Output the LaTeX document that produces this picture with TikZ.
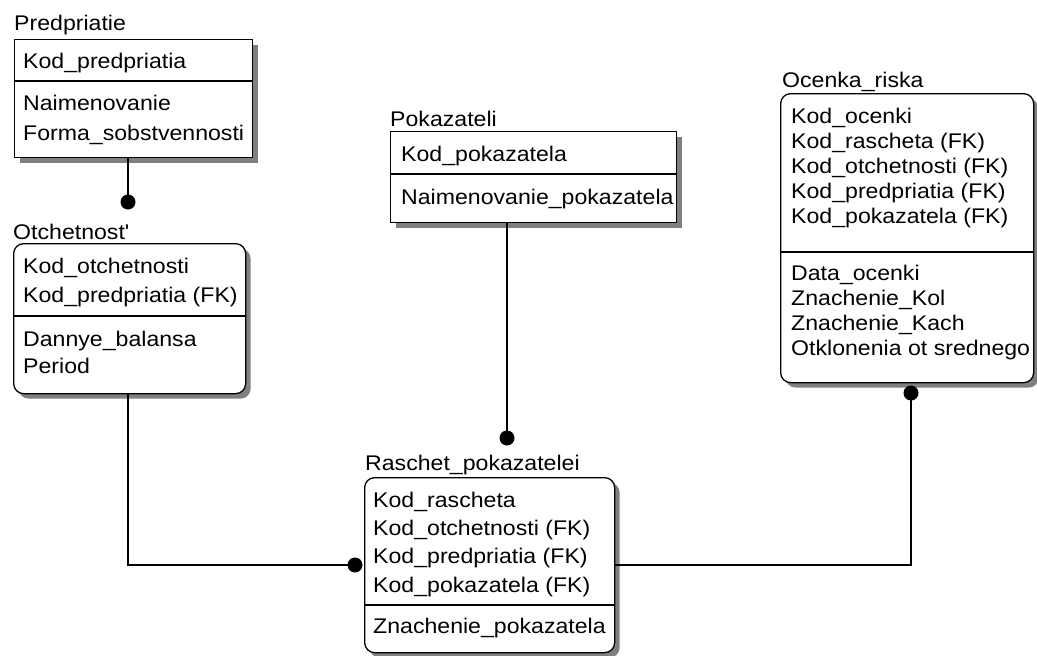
\documentclass[tikz,border=0pt]{standalone}
\usepackage{fontspec}
\setmainfont{Liberation Sans}[FakeStretch=1.09]
\usetikzlibrary{shadows}
\begin{document}
\begin{tikzpicture}[x=1pt,y=-1pt,
  ent/.style={draw=black, line width=1.3pt, fill=white, anchor=north west,
    inner sep=0pt, minimum width=#1,
    drop shadow={shadow xshift=5pt, shadow yshift=-5pt, fill=black!50, opacity=1}},
  dep/.style={ent=#1, rounded corners=10pt},
  txt/.style={anchor=base west, inner sep=0pt, font=\fontsize{21.2}{25}\selectfont},
  divider/.style={line width=1.3pt},
  link/.style={line width=1.3pt},
  dot/.style={circle, fill=black, inner sep=0pt, minimum size=15pt}]
\useasboundingbox (0,0) rectangle (1037,656);

% ---- entity boxes ----
\node[ent=238pt, minimum height=118pt] (pred) at (14,39) {};
\node[dep=232pt, minimum height=150pt] (otch) at (13,243) {};
\node[ent=286pt, minimum height=91pt] (pok) at (390,131) {};
\node[dep=250pt, minimum height=175pt] (rasch) at (364,477) {};
\node[dep=253pt, minimum height=289pt] (ocen) at (780,93) {};

% ---- key / non-key dividers ----
\draw[divider] (pred.west |- 0,81) -- (pred.east |- 0,81);
\draw[divider] (otch.west |- 0,316) -- (otch.east |- 0,316);
\draw[divider] (pok.west |- 0,174) -- (pok.east |- 0,174);
\draw[divider] (rasch.west |- 0,605) -- (rasch.east |- 0,605);
\draw[divider] (ocen.west |- 0,252) -- (ocen.east |- 0,252);

% ---- titles ----
\node[txt] (pred-t) at (14,30) {Predpriatie};
\node[txt] (otch-t) at (13,239) {Otchetnost\textquotesingle};
\node[txt] (pok-t) at (390,126) {Pokazateli};
\node[txt] (rasch-t) at (365,470) {Raschet\_pokazatelei};
\node[txt] (ocen-t) at (782,87) {Ocenka\_riska};

% ---- Predpriatie ----
\node[txt] (pred-1) at (23,68) {Kod\_predpriatia};
\node[txt] (pred-2) at (23,110) {Naimenovanie};
\node[txt] (pred-3) at (23,140) {Forma\_sobstvennosti};

% ---- Otchetnost' ----
\node[txt] (otch-1) at (23,273) {Kod\_otchetnosti};
\node[txt] (otch-2) at (23,302) {Kod\_predpriatia (FK)};
\node[txt] (otch-3) at (23,346) {Dannye\_balansa};
\node[txt] (otch-4) at (23,373) {Period};

% ---- Pokazateli ----
\node[txt] (pok-1) at (401,161) {Kod\_pokazatela};
\node[txt] (pok-2) at (401,204) {Naimenovanie\_pokazatela};

% ---- Raschet_pokazatelei ----
\node[txt] (rasch-1) at (373,507) {Kod\_rascheta};
\node[txt] (rasch-2) at (373,535) {Kod\_otchetnosti (FK)};
\node[txt] (rasch-3) at (373,563) {Kod\_predpriatia (FK)};
\node[txt] (rasch-4) at (373,592) {Kod\_pokazatela (FK)};
\node[txt] (rasch-5) at (373,633) {Znachenie\_pokazatela};

% ---- Ocenka_riska ----
\node[txt] (ocen-1) at (791,123) {Kod\_ocenki};
\node[txt] (ocen-2) at (791,148) {Kod\_rascheta (FK)};
\node[txt] (ocen-3) at (791,173) {Kod\_otchetnosti (FK)};
\node[txt] (ocen-4) at (791,198) {Kod\_predpriatia (FK)};
\node[txt] (ocen-5) at (791,223) {Kod\_pokazatela (FK)};
\node[txt] (ocen-6) at (791,280) {Data\_ocenki};
\node[txt] (ocen-7) at (791,305) {Znachenie\_Kol};
\node[txt] (ocen-8) at (791,330) {Znachenie\_Kach};
\node[txt] (ocen-9) at (791,355) {Otklonenia ot srednego};

% ---- relationship ends (child side) ----
\node[dot] (d-otch) at (128,202) {};
\node[dot] (d-rasch-l) at (355,565) {};
\node[dot] (d-rasch-t) at (507,438) {};
\node[dot] (d-ocen) at (911,393) {};

% ---- relationships ----
\draw[link] (pred.south -| d-otch) -- (d-otch.center);
\draw[link] (otch.south -| d-otch) |- (d-rasch-l.center);
\draw[link] (pok.south -| d-rasch-t) -- (d-rasch-t.center);
\draw[link] (rasch.east |- d-rasch-l) -| (d-ocen.center);
\end{tikzpicture}
\end{document}
